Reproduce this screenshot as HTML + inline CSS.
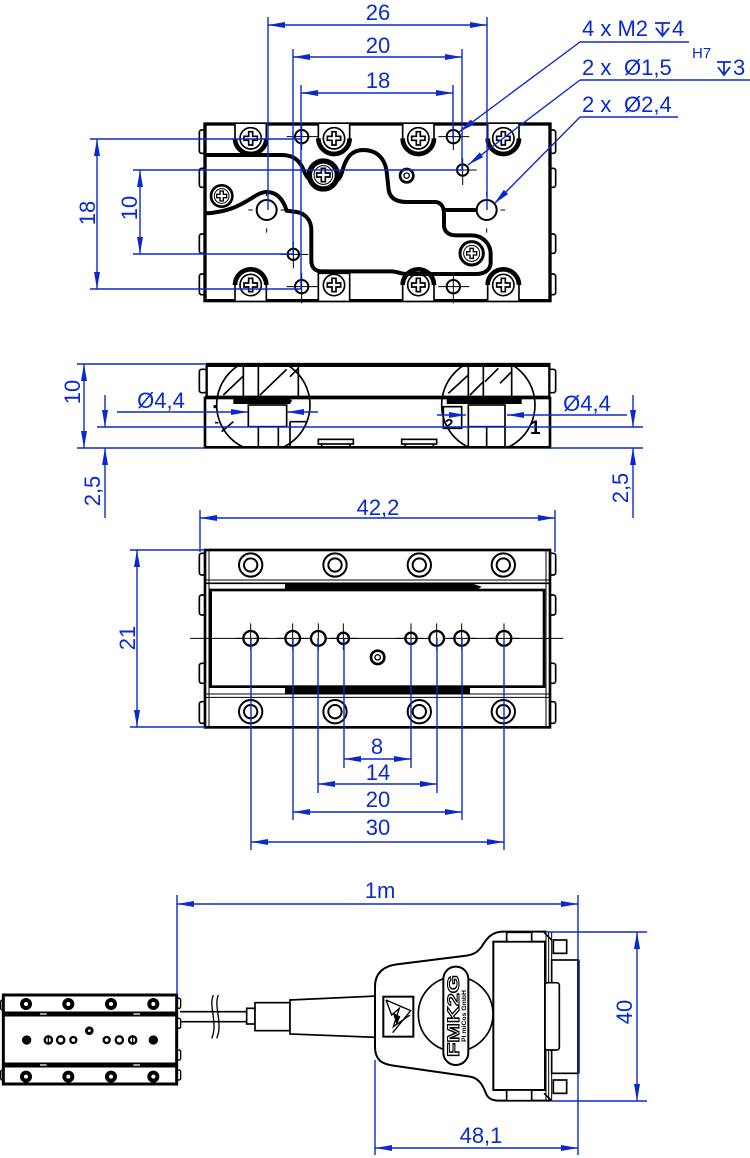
<!DOCTYPE html>
<html><head><meta charset="utf-8"><style>
html,body{margin:0;padding:0;background:#fff;}
svg{display:block;}
text{font-family:"Liberation Sans",Arial,sans-serif;fill:#0a2ad0;}
</style></head><body>
<svg width="750" height="1158" viewBox="0 0 750 1158" xmlns="http://www.w3.org/2000/svg">
<defs>
<marker id="a" markerUnits="userSpaceOnUse" markerWidth="17" markerHeight="6" refX="17" refY="3" orient="auto-start-reverse" viewBox="0 0 17 6"><path d="M0,0L17,3L0,6z" fill="#0a2ad0"/></marker>
<path id="cr" d="M-6,-20H6V-6H20V6H6V20H-6V6H-20V-6H-6Z"/>
<path id="crs" d="M-5,-15H5V-5H15V5H5V15H-5V5H-15V-5H-5Z"/>
<clipPath id="c2"><rect x="45" y="42" width="1035" height="250"/></clipPath>
</defs>

<!-- ================= VIEW 1 (top) ================= -->
<g transform="translate(190,110) scale(0.33333)" stroke="#000" fill="none">
<g stroke-width="5" fill="#fff">
<rect x="28" y="60" width="22" height="70" rx="7"/>
<rect x="28" y="175" width="22" height="57" rx="7"/>
<rect x="28" y="372" width="22" height="58" rx="7"/>
<rect x="28" y="492" width="22" height="62" rx="7"/>
<rect x="1075" y="60" width="22" height="70" rx="7"/>
<rect x="1075" y="175" width="22" height="57" rx="7"/>
<rect x="1075" y="372" width="22" height="58" rx="7"/>
<rect x="1075" y="492" width="22" height="62" rx="7"/>
</g>
<rect x="45" y="42" width="1035" height="530" stroke-width="10" fill="#fff"/>
<g stroke-width="5" fill="#fff">
<path d="M135,42V85A47,47 0 0 0 229,85V42"/>
<path d="M385,42V85A47,47 0 0 0 479,85V42"/>
<path d="M638,42V85A47,47 0 0 0 732,85V42"/>
<path d="M893,42V85A47,47 0 0 0 987,85V42"/>
<path d="M135,572V525A47,47 0 0 1 229,525V572"/>
<path d="M385,572V490H479V572"/>
<path d="M638,572V525A47,47 0 0 1 732,525V572"/>
<path d="M893,572V525A47,47 0 0 1 987,525V572"/>
</g>
<g stroke-width="14">
<path d="M135,85A47,47 0 0 0 229,85"/>
<path d="M385,85A47,47 0 0 0 479,85"/>
<path d="M638,85A47,47 0 0 0 732,85"/>
<path d="M893,85A47,47 0 0 0 987,85"/>
<path d="M135,525A47,47 0 0 1 229,525"/>
<path d="M638,525A47,47 0 0 1 732,525"/>
<path d="M893,525A47,47 0 0 1 987,525"/>
</g>
<g stroke-width="5" fill="#fff">
<circle cx="182" cy="85" r="32"/><circle cx="432" cy="85" r="32"/><circle cx="685" cy="85" r="32"/><circle cx="940" cy="85" r="32"/>
<circle cx="182" cy="525" r="32"/><circle cx="432" cy="525" r="32"/><circle cx="685" cy="525" r="32"/><circle cx="940" cy="525" r="32"/>
</g>
<g stroke-width="5">
<use href="#cr" x="182" y="85"/><use href="#cr" x="432" y="85"/><use href="#cr" x="685" y="85"/><use href="#cr" x="940" y="85"/>
<use href="#cr" x="182" y="525"/><use href="#cr" x="432" y="525"/><use href="#cr" x="685" y="525"/><use href="#cr" x="940" y="525"/>
</g>
<path d="M45,135 H275 C310,135 330,150 343,185 C360,235 440,240 455,190 C465,150 480,120 520,120 C560,120 585,145 590,185 L596,240 C600,265 620,276 650,276 H735 C752,276 762,290 762,310 V345 C762,365 775,376 800,376 H845 C878,376 902,402 902,432 V458 C902,478 885,492 860,492 H650 C630,492 622,484 605,484 H395 C375,484 364,472 364,452 V360 C364,330 345,310 320,306 L290,302 C280,270 262,246 230,246 C190,246 160,305 45,310" stroke-width="12"/>
<path d="M762,300H860" stroke-width="12"/>
<circle cx="400" cy="195" r="42" stroke-width="16" fill="#fff"/>
<circle cx="400" cy="195" r="28" stroke-width="3"/>
<use href="#cr" x="400" y="195" stroke-width="5"/>
<circle cx="650" cy="197" r="20" stroke-width="8" fill="#fff"/>
<circle cx="650" cy="197" r="8" stroke-width="4"/>
<circle cx="95" cy="258" r="32" stroke-width="8" fill="#fff"/>
<circle cx="95" cy="258" r="22" stroke-width="3"/>
<use href="#crs" x="95" y="258" stroke-width="4"/>
<circle cx="845" cy="430" r="35" stroke-width="9" fill="#fff"/>
<circle cx="845" cy="430" r="24" stroke-width="3"/>
<use href="#crs" x="845" y="430" stroke-width="4"/>
<g stroke-width="6" fill="#fff">
<circle cx="335" cy="80" r="20"/><circle cx="790" cy="80" r="20"/>
<circle cx="335" cy="530" r="20"/><circle cx="790" cy="530" r="20"/>
<circle cx="818" cy="180" r="17"/><circle cx="310" cy="433" r="17"/>
<circle cx="230" cy="300" r="30"/><circle cx="890" cy="300" r="30"/>
</g>
<g stroke-width="3">
<path d="M290,80H385M335,45V120M745,80H838M790,45V120"/>
<path d="M290,530H385M335,490V580M745,530H838M790,490V580"/>
<path d="M780,180H860M818,145V225M270,433H355M310,395V475"/>
<path d="M175,300H188M272,300H285M230,245V258M230,355V368"/>
<path d="M835,300H848M932,300H945M890,245V258M890,355V368"/>
</g>
</g>

<g stroke="#0a2ad0" stroke-width="1.4" fill="none">
<path d="M268,17V210M487,17V210M293,49V254M462,49V170M301,85V289M453,85V139"/>
<path d="M90,139H302M90,289H302M133,170H463M133,254H293"/>
<line x1="268" y1="25" x2="487" y2="25" marker-start="url(#a)" marker-end="url(#a)"/>
<line x1="293" y1="57" x2="462" y2="57" marker-start="url(#a)" marker-end="url(#a)"/>
<line x1="301" y1="93" x2="453" y2="93" marker-start="url(#a)" marker-end="url(#a)"/>
<line x1="97" y1="139" x2="97" y2="289" marker-start="url(#a)" marker-end="url(#a)"/>
<line x1="140" y1="170" x2="140" y2="254" marker-start="url(#a)" marker-end="url(#a)"/>
<path d="M580,42H689M580,80H750M580,117H678"/>
<line x1="580" y1="42" x2="459" y2="132" marker-end="url(#a)"/>
<line x1="580" y1="80" x2="468" y2="165" marker-end="url(#a)"/>
<line x1="580" y1="117" x2="494" y2="204" marker-end="url(#a)"/>
<path d="M655,23H670M662.5,23V36M656,28L662.5,36L669,28" stroke-width="1.8"/>
<path d="M717,62H731M724,62V75M718,67L724,75L730,67" stroke-width="1.8"/>
</g>
<g font-size="22" text-anchor="middle">
<text x="378" y="20">26</text>
<text x="378" y="53">20</text>
<text x="378" y="88">18</text>
<text transform="translate(95,213) rotate(-90)">18</text>
<text transform="translate(137,208) rotate(-90)">10</text>
</g>
<g font-size="22">
<text x="582" y="36">4 x M2</text>
<text x="672" y="36">4</text>
<text x="582" y="75">2 x <tspan x="624">Ø1,5</tspan></text>
<text x="692" y="58" font-size="15">H7</text>
<text x="733" y="75">3</text>
<text x="582" y="112">2 x <tspan x="624">Ø2,4</tspan></text>
</g>

<!-- ================= VIEW 2 (side) ================= -->
<g transform="translate(190,350) scale(0.33333)" stroke="#000" fill="none">
<rect x="28" y="58" width="22" height="70" rx="7" stroke-width="5" fill="#fff"/>
<rect x="1075" y="58" width="22" height="70" rx="7" stroke-width="5" fill="#fff"/>
<rect x="50" y="42" width="1028" height="100" stroke-width="7" fill="#fff"/>
<line x1="50" y1="45" x2="1078" y2="45" stroke-width="12"/>
<rect x="45" y="144" width="1035" height="148" stroke-width="8" fill="#fff"/>
<line x1="45" y1="142" x2="1080" y2="142" stroke-width="10"/>
<g clip-path="url(#c2)" stroke-width="5">
<circle cx="220" cy="165" r="140"/>
<circle cx="895" cy="165" r="140"/>
</g>
<g stroke-width="5">
<path d="M160,42V142M205,42V142M325,42V142M100,135L160,78M210,135L290,58M300,80L325,55"/>
<path d="M835,42V142M880,42V142M965,42V142M775,130L835,75M840,135L880,95M885,95L925,55M930,100L965,65"/>
<path d="M205,230V292M265,230V292M300,215H350M300,215V292M95,245L130,215M75,218H85"/>
<rect x="175" y="165" width="115" height="65"/>
<rect x="835" y="165" width="110" height="65"/>
<rect x="760" y="170" width="55" height="65"/>
<path d="M835,230V292M890,230V292M945,230V292"/>
<rect x="385" y="268" width="105" height="14"/>
<rect x="635" y="268" width="105" height="14"/>
<path d="M395,282V292M480,282V292M645,282V292M730,282V292"/>
</g>
<path d="M130,145H300L306,152L300,162H130Z" fill="#000" stroke="none"/>
<path d="M770,145H995V162H770Z" fill="#000" stroke="none"/>
<circle cx="75" cy="170" r="5" fill="#000" stroke="none"/>
</g>
<text x="530" y="434" font-size="19" font-weight="bold" style="fill:#000">1</text>
<text x="445" y="429" font-size="15" font-weight="bold" style="fill:#000">2</text>

<g stroke="#0a2ad0" stroke-width="1.4" fill="none">
<path d="M77,364H205M77,448H205M550,448H643M97,427H643"/>
<line x1="84" y1="364" x2="84" y2="448" marker-start="url(#a)" marker-end="url(#a)"/>
<line x1="117" y1="412" x2="248" y2="412" marker-end="url(#a)"/>
<line x1="318" y1="412" x2="287" y2="412" marker-end="url(#a)"/>
<line x1="105" y1="395" x2="105" y2="427" marker-end="url(#a)"/>
<line x1="105" y1="518" x2="105" y2="448" marker-end="url(#a)"/>
<line x1="627" y1="415" x2="507" y2="415" marker-end="url(#a)"/>
<line x1="437" y1="415" x2="466" y2="415" marker-end="url(#a)"/>
<line x1="633" y1="395" x2="633" y2="427" marker-end="url(#a)"/>
<line x1="633" y1="518" x2="633" y2="448" marker-end="url(#a)"/>
</g>
<g font-size="22" text-anchor="middle">
<text transform="translate(80,392) rotate(-90)">10</text>
<text x="161" y="408">Ø4,4</text>
<text transform="translate(100,491) rotate(-90)">2,5</text>
<text x="587" y="411">Ø4,4</text>
<text transform="translate(628,488) rotate(-90)">2,5</text>
</g>

<!-- ================= VIEW 3 (bottom) ================= -->
<g transform="translate(190,540) scale(0.33333)" stroke="#000" fill="none">
<g stroke-width="5" fill="#fff">
<rect x="28" y="40" width="22" height="65" rx="7"/>
<rect x="28" y="165" width="22" height="60" rx="7"/>
<rect x="28" y="370" width="22" height="60" rx="7"/>
<rect x="28" y="485" width="22" height="65" rx="7"/>
<rect x="1075" y="40" width="22" height="65" rx="7"/>
<rect x="1075" y="165" width="22" height="60" rx="7"/>
<rect x="1075" y="370" width="22" height="60" rx="7"/>
<rect x="1075" y="485" width="22" height="65" rx="7"/>
</g>
<rect x="45" y="30" width="1035" height="532" stroke-width="8" fill="#fff"/>
<path d="M57,30V562M1068,30V562" stroke-width="3"/>
<path d="M45,120H1080M45,462H1080M45,472H1080" stroke-width="3"/>
<path d="M45,130H1080" stroke-width="5"/>
<path d="M285,132H850L875,140L860,150H285Z" fill="#000" stroke="none"/>
<path d="M285,442H840V462H285Z" fill="#000" stroke="none"/>
<rect x="62" y="150" width="1000" height="290" stroke-width="8"/>
<path d="M0,295H1120" stroke-width="3"/>
<g stroke-width="6" fill="#fff">
<circle cx="182" cy="75" r="35"/><circle cx="435" cy="75" r="35"/><circle cx="688" cy="75" r="35"/><circle cx="940" cy="75" r="35"/>
<circle cx="182" cy="515" r="35"/><circle cx="435" cy="515" r="35"/><circle cx="688" cy="515" r="35"/><circle cx="940" cy="515" r="35"/>
<circle cx="182" cy="75" r="20"/><circle cx="435" cy="75" r="20"/><circle cx="688" cy="75" r="20"/><circle cx="940" cy="75" r="20"/>
<circle cx="182" cy="515" r="20"/><circle cx="435" cy="515" r="20"/><circle cx="688" cy="515" r="20"/><circle cx="940" cy="515" r="20"/>
</g>
<g stroke-width="7" fill="#fff">
<circle cx="182" cy="295" r="22"/><circle cx="308" cy="295" r="22"/><circle cx="385" cy="295" r="22"/><circle cx="460" cy="295" r="17"/>
<circle cx="663" cy="295" r="17"/><circle cx="740" cy="295" r="22"/><circle cx="815" cy="295" r="22"/><circle cx="942" cy="295" r="22"/>
</g>
<path d="M182,250V330M308,250V330M385,250V330M460,250V330M663,250V330M740,250V330M815,250V330M942,250V330M135,295H230M262,295H355M420,295H505M620,295H700M770,295H860M895,295H990" stroke-width="3"/>
<circle cx="563" cy="352" r="20" stroke-width="8" fill="#fff"/>
<circle cx="563" cy="352" r="8" stroke-width="4"/>
</g>

<g stroke="#0a2ad0" stroke-width="1.4" fill="none">
<path d="M200,510V552M555,510V552M130,550H205M130,727H205"/>
<path d="M251,638V850M293,638V820M318,638V793M344,638V768M411,638V768M437,638V793M462,638V820M504,638V850"/>
<line x1="200" y1="518" x2="555" y2="518" marker-start="url(#a)" marker-end="url(#a)"/>
<line x1="137" y1="550" x2="137" y2="727" marker-start="url(#a)" marker-end="url(#a)"/>
<line x1="344" y1="759" x2="411" y2="759" marker-start="url(#a)" marker-end="url(#a)"/>
<line x1="318" y1="784" x2="437" y2="784" marker-start="url(#a)" marker-end="url(#a)"/>
<line x1="293" y1="812" x2="462" y2="812" marker-start="url(#a)" marker-end="url(#a)"/>
<line x1="251" y1="842" x2="504" y2="842" marker-start="url(#a)" marker-end="url(#a)"/>
</g>
<g font-size="22" text-anchor="middle">
<text x="378" y="515">42,2</text>
<text transform="translate(135,638) rotate(-90)">21</text>
<text x="377" y="754">8</text>
<text x="378" y="780">14</text>
<text x="378" y="807">20</text>
<text x="378" y="835">30</text>
</g>

<!-- ================= VIEW 4 ================= -->
<g transform="translate(0,880) scale(0.33333)" stroke="#000" fill="none">
<g stroke-width="4" fill="#fff">
<rect x="526" y="355" width="16" height="30" rx="5"/>
<rect x="526" y="415" width="16" height="30" rx="5"/>
<rect x="526" y="510" width="16" height="30" rx="5"/>
<rect x="526" y="570" width="16" height="30" rx="5"/>
<rect x="2" y="360" width="14" height="30" rx="5"/>
<rect x="2" y="570" width="14" height="30" rx="5"/>
</g>
<rect x="10" y="345" width="520" height="267" stroke-width="9" fill="#fff"/>
<path d="M10,402H530M10,555H530" stroke-width="15"/>
<path d="M120,402H140M400,402H420M120,555H140M400,555H420" stroke="#fff" stroke-width="4"/>
<g fill="#000" stroke="none">
<circle cx="78" cy="372" r="18"/><circle cx="205" cy="372" r="18"/><circle cx="333" cy="372" r="18"/><circle cx="460" cy="372" r="18"/>
<circle cx="78" cy="590" r="18"/><circle cx="205" cy="590" r="18"/><circle cx="333" cy="590" r="18"/><circle cx="460" cy="590" r="18"/>
<circle cx="80" cy="480" r="14"/><circle cx="460" cy="480" r="14"/><circle cx="268" cy="452" r="13"/>
</g>
<g fill="#fff" stroke="none">
<circle cx="78" cy="372" r="6"/><circle cx="205" cy="372" r="6"/><circle cx="333" cy="372" r="6"/><circle cx="460" cy="372" r="6"/>
<circle cx="78" cy="590" r="6"/><circle cx="205" cy="590" r="6"/><circle cx="333" cy="590" r="6"/><circle cx="460" cy="590" r="6"/>
<circle cx="268" cy="452" r="4"/>
</g>
<g stroke-width="7" fill="#fff">
<circle cx="145" cy="480" r="11"/><circle cx="182" cy="480" r="11"/><circle cx="220" cy="480" r="9"/>
<circle cx="320" cy="480" r="9"/><circle cx="358" cy="480" r="11"/><circle cx="398" cy="480" r="11"/>
</g>
<path d="M145,468V492M398,468V492" stroke-width="4"/>
<path d="M540,395H740M540,425H740" stroke-width="5"/>
<path d="M640,345C625,380 655,430 635,475M655,345C640,380 670,430 650,475" stroke-width="4"/>
<rect x="740" y="385" width="25" height="47" stroke-width="5" fill="#fff"/>
<rect x="765" y="368" width="105" height="84" stroke-width="5" fill="#fff"/>
<path d="M870,360L1130,348V472L870,462Z" stroke-width="5" fill="#fff"/>
</g>

<g transform="translate(360,900) scale(0.33333)" stroke="#000" fill="none">
<path d="M560,95 H430 C395,95 380,115 365,140 C350,160 335,165 320,167 L110,193 C70,198 45,220 45,260 V440 C45,480 65,492 100,497 L330,530 C360,535 370,560 380,585 C388,598 400,602 420,602 H575" stroke-width="6" fill="#fff"/>
<circle cx="287" cy="342" r="112" stroke-width="5"/>
<rect x="250" y="200" width="75" height="295" rx="37" stroke-width="6" fill="#fff"/>
<rect x="70" y="290" width="90" height="120" stroke-width="6"/>
<path d="M78,300L152,332L98,398M78,300L95,345L118,325L100,380L150,345" stroke-width="4"/>
<path d="M100,340L120,350L110,372Z" fill="#000" stroke-width="2"/>
<rect x="400" y="125" width="155" height="445" stroke-width="6" fill="#fff"/>
<rect x="440" y="97" width="75" height="28" stroke-width="5" fill="#fff"/>
<rect x="440" y="570" width="75" height="32" stroke-width="5" fill="#fff"/>
<path d="M558,95V602M566,95V602M575,95V602" stroke-width="3"/>
<path d="M552,97L575,120M552,580L575,602" stroke-width="5"/>
<rect x="575" y="180" width="80" height="340" stroke-width="5" fill="#fff"/>
<path d="M655,180V520" stroke-width="8"/>
<rect x="580" y="120" width="40" height="40" stroke-width="5" fill="#fff"/>
<rect x="580" y="540" width="40" height="40" stroke-width="5" fill="#fff"/>
<rect x="555" y="248" width="43" height="202" rx="8" stroke-width="5" fill="#fff"/>
</g>
<text transform="translate(459,1016) rotate(-90)" font-size="17" font-weight="bold" text-anchor="middle" textLength="82" lengthAdjust="spacingAndGlyphs" style="fill:#fff;stroke:#000;stroke-width:1.1">FMK2G</text>
<text transform="translate(466,1016) rotate(-90)" font-size="6" font-weight="bold" text-anchor="middle" textLength="52" lengthAdjust="spacingAndGlyphs" style="fill:#000">PI miCos GmbH</text>

<g stroke="#0a2ad0" stroke-width="1.4" fill="none">
<path d="M177,895V995M578,895V1155M547,932H647M552,1101H647M375,1060V1155"/>
<line x1="177" y1="904" x2="578" y2="904" marker-start="url(#a)" marker-end="url(#a)"/>
<line x1="637" y1="932" x2="637" y2="1101" marker-start="url(#a)" marker-end="url(#a)"/>
<line x1="375" y1="1148" x2="578" y2="1148" marker-start="url(#a)" marker-end="url(#a)"/>
</g>
<g font-size="22" text-anchor="middle">
<text x="380" y="898">1m</text>
<text transform="translate(632,1012) rotate(-90)">40</text>
<text x="481" y="1143">48,1</text>
</g>
</svg>
</body></html>
